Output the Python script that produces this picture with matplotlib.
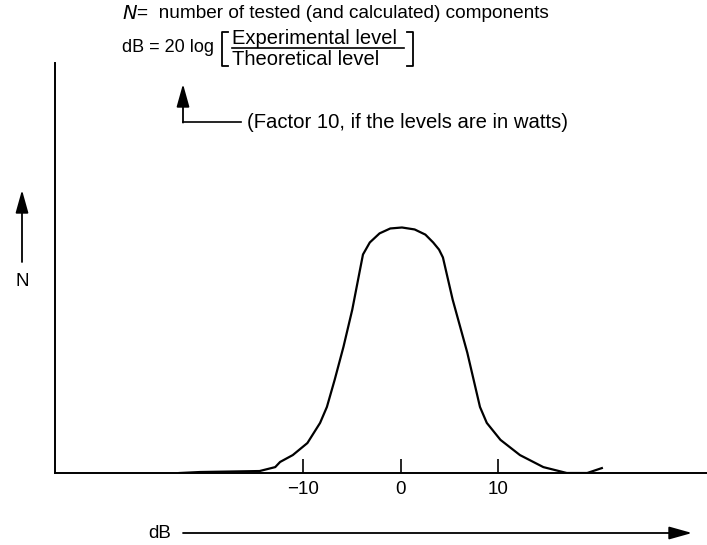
import numpy as np
import matplotlib.pyplot as plt

# Deviation of measured level from computed level (dB) and relative count N
db = [-22.7, -20.6, -17.5, -14.5, -12.9, -12.4, -11.1, -9.6, -8.3, -7.6, -6.8,
      -5.9, -5.0, -4.2, -3.9, -3.5, -3.2, -2.2, -1.1, 0.1, 1.4, 2.5, 3.3, 3.9, 4.3, 5.3,
      6.8, 8.1, 8.8, 10.2, 12.2, 14.6, 17.0, 19.1, 20.6]
count = [0.0, 0.4, 0.6, 0.8, 2.4, 4.5, 7.3, 12.2, 20.4, 26.9, 38.0,
         51.4, 66.5, 82.9, 89.0, 91.8, 93.9, 97.6, 99.6, 100.0, 99.2, 97.1, 93.9, 91.0,
         87.8, 70.6, 49.0, 26.9, 20.4, 13.5, 7.3, 2.4, 0.0, 0.0, 2.0]
tick_vals = [-10, 0, 10]
tick_labels = ['\u221210', '0', '10']

W, H = 707, 545
FONT = 'Liberation Sans'


def fx(px):
    return px / W


def fy(py):
    return 1 - py / H


def arrow(x0, y0, x1, y1):
    # arrow in image pixel coords (y down), tip at (x1, y1)
    plt.annotate('', xy=(x1, H - y1), xycoords='figure pixels',
                 xytext=(x0, H - y0), textcoords='figure pixels',
                 arrowprops=dict(arrowstyle='-|>,head_length=1.0,head_width=0.28',
                                 mutation_scale=14, lw=1.3, color='k',
                                 shrinkA=0, shrinkB=0))


fig = plt.figure(figsize=(W / 100, H / 100), dpi=100)
ax = fig.add_axes([fx(55), fy(473), fx(707) - fx(55), fy(63) - fy(473)])

ax.plot(db, count, color='k', lw=1.6, solid_joinstyle='round')
ax.set_xlim((55 - 401) / 9.75, (707 - 401) / 9.75)
ax.set_ylim(0, 167)

for s in ['top', 'right']:
    ax.spines[s].set_visible(False)
ax.spines['left'].set_linewidth(1.4)
ax.spines['bottom'].set_linewidth(1.4)
ax.set_xticks(tick_vals)
ax.set_xticklabels(tick_labels, fontsize=13.5, family=FONT)
ax.tick_params(axis='x', direction='in', length=10, width=1.2, pad=6)
ax.set_yticks([])

# header: definition of N and dB
fig.text(fx(122), fy(14), r'$\mathit{N}$', fontsize=14, va='center',
         family=FONT, fontweight='bold')
fig.text(fx(137), fy(14), '=  number of tested (and calculated) components',
         fontsize=13.7, va='center', family=FONT)
fig.text(fx(122), fy(48), 'dB = 20 log', fontsize=13, va='center', family=FONT)
fig.text(fx(232), fy(38), 'Experimental level', fontsize=14.5, va='center', family=FONT)
fig.text(fx(232), fy(59), 'Theoretical level', fontsize=14.5, va='center', family=FONT)
fig.add_artist(plt.Line2D([fx(232), fx(404)], [fy(48), fy(48)], color='k', lw=1.2))
# square brackets around the ratio
fig.add_artist(plt.Line2D([fx(228), fx(222), fx(222), fx(228)],
                          [fy(32), fy(32), fy(66), fy(66)], color='k', lw=1.3))
fig.add_artist(plt.Line2D([fx(407), fx(413), fx(413), fx(407)],
                          [fy(32), fy(32), fy(66), fy(66)], color='k', lw=1.3))

# note on the factor
fig.add_artist(plt.Line2D([fx(183), fx(241)], [fy(122), fy(122)], color='k', lw=1.2))
arrow(183, 122.6, 183, 84)
fig.text(fx(247), fy(122), '(Factor 10, if the levels are in watts)',
         fontsize=14.6, va='center', family=FONT)

# axis names with arrows
arrow(22, 262, 22, 190)
fig.text(fx(22), fy(281), 'N', fontsize=13.5, ha='center', va='center', family=FONT)
arrow(183, 533, 692, 533)
fig.text(fx(160), fy(533), 'dB', fontsize=13.5, ha='center', va='center', family=FONT)

plt.savefig('out.png', dpi=100)
